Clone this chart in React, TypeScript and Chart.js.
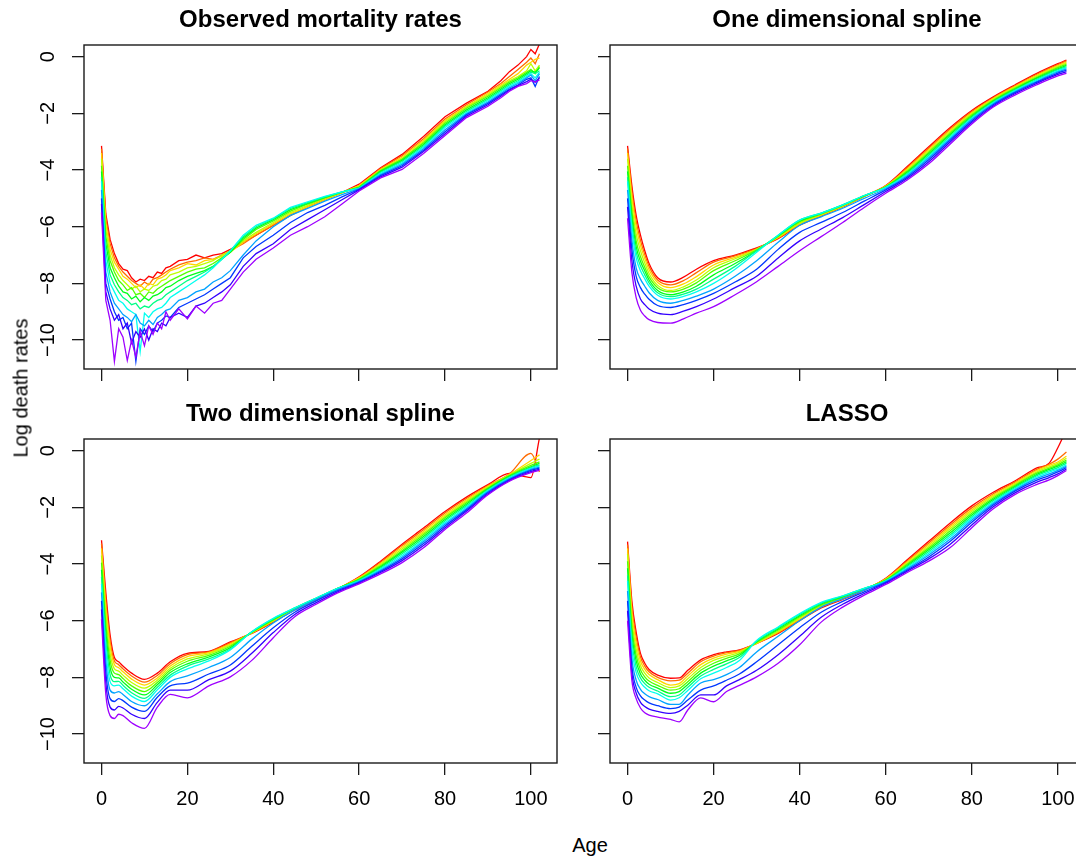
import React, { useEffect, useRef } from "react";
import { Chart, registerables } from "chart.js";

Chart.register(...registerables);
Chart.defaults.font.family = "'Liberation Sans', Arial, Helvetica, sans-serif";

// ---------- axis settings ----------
const X_TICKS = [0, 20, 40, 60, 80, 100];
const Y_TICKS = [0, -2, -4, -6, -8, -10];
const X_MIN = -4.08;
const X_MAX = 106.08;
const Y_MIN = -11.02;
const Y_MAX = 0.41;
const X_LABEL = "Age";
const Y_LABEL = "Log death rates";
const TITLES = ["Observed mortality rates", "One dimensional spline", "Two dimensional spline", "LASSO"];

// ---------- observed log death rates (one row per year, red = earliest, purple = latest) ----------
const OBS_AGES = [0, 1, 2, 3, 4, 5, 6, 7, 8, 9, 10, 11, 12, 13, 14, 15, 16, 18, 20, 22, 24, 26, 28, 30, 33, 36, 40, 44, 48, 52, 56, 60, 65, 70, 75, 80, 85, 90, 93, 95, 97, 99, 100, 101, 102];
const OBSERVED = [
  [-3.15, -5.55, -6.45, -6.95, -7.3, -7.5, -7.55, -7.8, -7.95, -7.85, -7.9, -7.75, -7.8, -7.6, -7.65, -7.45, -7.4, -7.2, -7.15, -7.0, -7.1, -7.0, -6.95, -6.8, -6.55, -6.3, -5.95, -5.6, -5.3, -5.05, -4.8, -4.5, -3.92, -3.45, -2.82, -2.12, -1.64, -1.22, -0.85, -0.53, -0.3, 0.0, 0.25, 0.1, 0.45],
  [-3.25, -5.7, -6.6, -7.1, -7.4, -7.6, -7.75, -7.9, -8.0, -8.1, -7.95, -8.05, -7.85, -7.8, -7.7, -7.6, -7.5, -7.35, -7.25, -7.2, -7.1, -7.15, -7.0, -6.85, -6.6, -6.3, -5.95, -5.6, -5.3, -5.05, -4.8, -4.55, -3.95, -3.5, -2.9, -2.2, -1.7, -1.25, -0.95, -0.7, -0.45, -0.2, -0.05, -0.25, 0.1],
  [-3.4, -5.9, -6.8, -7.25, -7.5, -7.75, -7.85, -8.0, -8.15, -8.05, -8.2, -8.0, -8.05, -7.85, -7.8, -7.7, -7.55, -7.45, -7.3, -7.35, -7.2, -7.15, -7.05, -6.9, -6.55, -6.25, -5.9, -5.55, -5.3, -5.05, -4.8, -4.55, -3.98, -3.55, -2.95, -2.25, -1.75, -1.3, -1.0, -0.8, -0.6, -0.3, -0.2, -0.1, -0.05],
  [-3.6, -6.1, -7.0, -7.45, -7.7, -7.9, -8.05, -8.2, -8.1, -8.3, -8.2, -8.25, -8.1, -8.05, -7.9, -7.85, -7.7, -7.6, -7.45, -7.4, -7.3, -7.2, -7.0, -6.85, -6.5, -6.2, -5.85, -5.5, -5.25, -5.0, -4.8, -4.58, -4.0, -3.6, -3.0, -2.3, -1.78, -1.35, -1.05, -0.85, -0.7, -0.5, -0.25, -0.5, -0.3],
  [-3.85, -6.35, -7.2, -7.6, -7.9, -8.05, -8.25, -8.15, -8.4, -8.35, -8.5, -8.3, -8.35, -8.2, -8.1, -8.0, -7.9, -7.75, -7.6, -7.5, -7.45, -7.3, -7.1, -6.9, -6.45, -6.1, -5.8, -5.45, -5.2, -4.98, -4.78, -4.6, -4.02, -3.62, -3.05, -2.35, -1.82, -1.4, -1.1, -0.9, -0.75, -0.55, -0.45, -0.6, -0.35],
  [-4.05, -6.6, -7.45, -7.8, -8.1, -8.3, -8.35, -8.55, -8.45, -8.65, -8.5, -8.6, -8.45, -8.4, -8.3, -8.15, -8.1, -7.9, -7.75, -7.65, -7.55, -7.4, -7.15, -6.9, -6.4, -6.05, -5.75, -5.4, -5.18, -4.97, -4.78, -4.62, -4.05, -3.66, -3.1, -2.4, -1.88, -1.45, -1.15, -0.95, -0.8, -0.6, -0.5, -0.55, -0.4],
  [-4.25, -6.9, -7.7, -8.05, -8.3, -8.5, -8.6, -8.75, -8.7, -8.9, -8.8, -8.85, -8.7, -8.6, -8.55, -8.4, -8.3, -8.1, -7.9, -7.75, -7.6, -7.4, -7.15, -6.85, -6.35, -6.0, -5.72, -5.35, -5.15, -4.95, -4.77, -4.63, -4.08, -3.7, -3.15, -2.45, -1.93, -1.5, -1.2, -1.0, -0.85, -0.65, -0.55, -0.6, -0.5],
  [-4.4, -7.2, -8.0, -8.3, -8.6, -8.7, -8.9, -9.0, -9.1, -10.4, -9.05, -9.2, -9.0, -8.9, -8.85, -8.7, -8.5, -8.3, -8.1, -7.9, -7.7, -7.45, -7.15, -6.85, -6.3, -5.95, -5.7, -5.32, -5.12, -4.93, -4.77, -4.65, -4.12, -3.75, -3.2, -2.5, -1.98, -1.55, -1.25, -1.05, -0.9, -0.7, -0.6, -0.75, -0.55],
  [-4.7, -7.6, -8.3, -8.7, -8.9, -9.1, -9.2, -9.35, -9.1, -9.4, -9.5, -9.3, -9.45, -9.2, -9.1, -8.95, -8.9, -8.6, -8.5, -8.3, -8.2, -7.95, -7.8, -7.55, -7.0, -6.5, -6.0, -5.6, -5.35, -5.1, -4.87, -4.66, -4.16, -3.8, -3.25, -2.58, -2.02, -1.6, -1.3, -1.1, -0.95, -0.75, -0.65, -0.85, -0.6],
  [-5.0, -8.0, -8.55, -9.0, -9.3, -9.2, -9.6, -9.4, -10.75, -9.6, -9.8, -9.5, -9.7, -9.4, -9.3, -9.15, -9.2, -8.85, -8.7, -8.55, -8.4, -8.2, -8.0, -7.8, -7.1, -6.7, -6.3, -5.85, -5.5, -5.25, -4.95, -4.68, -4.2, -3.85, -3.3, -2.65, -2.05, -1.65, -1.35, -1.15, -1.0, -0.8, -0.75, -1.05, -0.7],
  [-5.2, -8.3, -8.9, -9.3, -9.1, -9.6, -9.4, -10.1, -9.7, -9.9, -9.6, -10.0, -9.6, -9.7, -9.4, -9.5, -9.2, -9.05, -9.2, -8.8, -8.7, -8.5, -8.3, -8.05, -7.4, -6.95, -6.6, -6.1, -5.75, -5.4, -5.05, -4.7, -4.24, -3.9, -3.35, -2.72, -2.1, -1.7, -1.4, -1.18, -1.02, -0.88, -0.8, -0.9, -0.75],
  [-5.5, -8.6, -9.3, -10.75, -9.6, -9.9, -10.72, -10.0, -10.6, -9.7, -10.2, -9.5, -9.8, -9.4, -9.6, -9.0, -9.3, -8.9, -9.25, -8.8, -9.05, -8.7, -8.6, -8.2, -7.6, -7.15, -6.75, -6.3, -6.0, -5.65, -5.2, -4.74, -4.28, -3.98, -3.42, -2.78, -2.15, -1.75, -1.45, -1.22, -1.05, -0.95, -0.85, -0.9, -0.82],
];

// ---------- one dimensional spline fits ----------
const SMOOTH_AGES = [0, 1, 2, 3, 4, 5, 7, 10, 13, 16, 20, 25, 30, 35, 40, 45, 50, 55, 60, 65, 70, 75, 80, 85, 90, 95, 100, 102];
const SPLINE_1D = [
  [-3.15, -4.55, -5.6, -6.3, -6.85, -7.3, -7.8, -7.95, -7.78, -7.5, -7.2, -7.0, -6.75, -6.42, -5.95, -5.62, -5.3, -4.93, -4.55, -3.88, -3.18, -2.5, -1.9, -1.42, -1.0, -0.6, -0.25, -0.12],
  [-3.25, -4.75, -5.8, -6.48, -6.98, -7.4, -7.88, -8.05, -7.9, -7.62, -7.25, -7.03, -6.77, -6.4, -5.92, -5.6, -5.29, -4.93, -4.56, -3.92, -3.23, -2.55, -1.94, -1.45, -1.03, -0.63, -0.28, -0.15],
  [-3.4, -4.95, -6.0, -6.66, -7.12, -7.52, -7.97, -8.15, -8.02, -7.76, -7.35, -7.08, -6.8, -6.38, -5.9, -5.59, -5.28, -4.92, -4.57, -3.96, -3.28, -2.6, -1.98, -1.48, -1.06, -0.67, -0.32, -0.19],
  [-3.6, -5.2, -6.25, -6.85, -7.28, -7.65, -8.07, -8.25, -8.12, -7.88, -7.45, -7.13, -6.8, -6.36, -5.87, -5.57, -5.27, -4.92, -4.58, -4.0, -3.33, -2.65, -2.02, -1.51, -1.09, -0.7, -0.35, -0.23],
  [-3.85, -5.45, -6.5, -7.05, -7.43, -7.77, -8.15, -8.3, -8.2, -7.98, -7.55, -7.2, -6.82, -6.34, -5.83, -5.55, -5.25, -4.91, -4.59, -4.04, -3.38, -2.7, -2.06, -1.54, -1.12, -0.74, -0.39, -0.27],
  [-4.05, -5.65, -6.7, -7.22, -7.56, -7.88, -8.25, -8.4, -8.3, -8.1, -7.7, -7.3, -6.85, -6.32, -5.8, -5.53, -5.24, -4.91, -4.6, -4.08, -3.43, -2.75, -2.1, -1.57, -1.15, -0.77, -0.43, -0.31],
  [-4.25, -5.9, -6.9, -7.38, -7.7, -7.98, -8.33, -8.47, -8.38, -8.2, -7.85, -7.4, -6.85, -6.3, -5.77, -5.52, -5.23, -4.9, -4.61, -4.12, -3.48, -2.8, -2.14, -1.6, -1.18, -0.81, -0.46, -0.35],
  [-4.4, -6.1, -7.1, -7.55, -7.84, -8.1, -8.42, -8.55, -8.46, -8.3, -8.0, -7.5, -6.9, -6.3, -5.77, -5.52, -5.23, -4.9, -4.62, -4.16, -3.53, -2.85, -2.18, -1.63, -1.21, -0.84, -0.5, -0.39],
  [-4.7, -6.45, -7.45, -7.85, -8.1, -8.33, -8.6, -8.7, -8.6, -8.45, -8.2, -7.75, -7.2, -6.55, -5.95, -5.65, -5.35, -5.0, -4.66, -4.2, -3.58, -2.9, -2.22, -1.66, -1.24, -0.88, -0.54, -0.43],
  [-5.0, -6.8, -7.75, -8.15, -8.38, -8.56, -8.78, -8.85, -8.75, -8.6, -8.35, -7.95, -7.5, -6.8, -6.2, -5.85, -5.5, -5.1, -4.7, -4.25, -3.64, -2.95, -2.27, -1.7, -1.27, -0.91, -0.58, -0.48],
  [-5.3, -7.2, -8.1, -8.55, -8.75, -8.9, -9.05, -9.1, -8.98, -8.82, -8.55, -8.15, -7.75, -7.1, -6.5, -6.08, -5.68, -5.22, -4.76, -4.3, -3.71, -3.01, -2.32, -1.74, -1.31, -0.95, -0.63, -0.53],
  [-5.7, -7.6, -8.5, -8.95, -9.15, -9.28, -9.38, -9.4, -9.25, -9.05, -8.82, -8.4, -7.94, -7.4, -6.85, -6.35, -5.85, -5.32, -4.82, -4.35, -3.78, -3.08, -2.38, -1.78, -1.36, -1.0, -0.68, -0.59],
];

// ---------- two dimensional spline fits ----------
const SPLINE_2D = [
  [-3.16, -5.0, -6.5, -7.3, -7.45, -7.6, -7.85, -8.07, -7.85, -7.45, -7.15, -7.08, -6.75, -6.45, -6.05, -5.62, -5.26, -4.88, -4.45, -3.9, -3.3, -2.73, -2.15, -1.64, -1.2, -0.8, -0.95, 0.45],
  [-3.28, -5.25, -6.7, -7.42, -7.55, -7.7, -7.95, -8.17, -7.93, -7.52, -7.2, -7.1, -6.78, -6.44, -6.03, -5.61, -5.25, -4.88, -4.47, -3.94, -3.35, -2.79, -2.2, -1.69, -1.23, -0.82, -0.1, -0.75],
  [-3.45, -5.5, -6.9, -7.55, -7.66, -7.8, -8.06, -8.27, -8.02, -7.6, -7.27, -7.13, -6.82, -6.43, -6.01, -5.6, -5.24, -4.87, -4.49, -3.98, -3.41, -2.85, -2.26, -1.74, -1.26, -0.84, -0.35, -0.15],
  [-3.7, -5.8, -7.15, -7.7, -7.78, -7.92, -8.18, -8.38, -8.1, -7.68, -7.35, -7.17, -6.86, -6.42, -5.99, -5.58, -5.23, -4.87, -4.51, -4.02, -3.47, -2.91, -2.32, -1.79, -1.29, -0.86, -0.45, -0.3],
  [-3.95, -6.1, -7.4, -7.85, -7.9, -8.04, -8.3, -8.5, -8.18, -7.75, -7.43, -7.22, -6.9, -6.41, -5.97, -5.57, -5.22, -4.86, -4.53, -4.06, -3.53, -2.97, -2.37, -1.84, -1.32, -0.88, -0.52, -0.4],
  [-4.2, -6.4, -7.65, -8.0, -8.02, -8.16, -8.42, -8.62, -8.26, -7.83, -7.52, -7.28, -6.95, -6.4, -5.95, -5.56, -5.21, -4.86, -4.55, -4.1, -3.58, -3.03, -2.43, -1.89, -1.35, -0.9, -0.57, -0.45],
  [-4.45, -6.7, -7.9, -8.15, -8.14, -8.28, -8.54, -8.74, -8.35, -7.92, -7.6, -7.35, -7.0, -6.39, -5.93, -5.55, -5.2, -4.86, -4.57, -4.14, -3.64, -3.09, -2.48, -1.94, -1.38, -0.93, -0.6, -0.5],
  [-4.7, -7.0, -8.15, -8.3, -8.27, -8.4, -8.66, -8.85, -8.44, -8.0, -7.7, -7.42, -7.03, -6.39, -5.92, -5.55, -5.2, -4.86, -4.59, -4.18, -3.7, -3.15, -2.54, -1.99, -1.41, -0.96, -0.63, -0.54],
  [-5.0, -7.4, -8.45, -8.55, -8.5, -8.6, -8.85, -9.0, -8.58, -8.15, -7.95, -7.65, -7.3, -6.65, -6.08, -5.62, -5.25, -4.9, -4.61, -4.22, -3.76, -3.21, -2.6, -2.04, -1.44, -0.99, -0.66, -0.58],
  [-5.3, -7.8, -8.75, -8.85, -8.75, -8.82, -9.05, -9.2, -8.7, -8.3, -8.2, -7.88, -7.56, -6.9, -6.25, -5.7, -5.3, -4.94, -4.64, -4.26, -3.82, -3.28, -2.66, -2.09, -1.48, -1.02, -0.7, -0.62],
  [-5.6, -8.2, -9.05, -9.15, -9.02, -9.08, -9.3, -9.45, -8.88, -8.45, -8.45, -8.08, -7.78, -7.15, -6.42, -5.78, -5.36, -4.98, -4.67, -4.3, -3.88, -3.35, -2.72, -2.14, -1.52, -1.05, -0.74, -0.66],
  [-5.95, -8.6, -9.35, -9.45, -9.3, -9.35, -9.6, -9.8, -9.05, -8.6, -8.72, -8.3, -7.98, -7.4, -6.6, -5.86, -5.42, -5.02, -4.7, -4.35, -3.95, -3.43, -2.78, -2.2, -1.56, -1.08, -0.78, -0.7],
];

// ---------- LASSO fits ----------
const LASSO_AGES = [0, 1, 2, 3, 4, 5, 7, 10, 12, 14, 17, 20, 23, 26, 30, 35, 40, 45, 50, 55, 60, 65, 70, 75, 80, 85, 90, 95, 98, 100, 102];
const LASSO_FIT = [
  [-3.21, -5.3, -6.4, -7.15, -7.5, -7.72, -7.92, -8.03, -8.02, -7.75, -7.38, -7.2, -7.1, -7.03, -6.8, -6.45, -6.0, -5.55, -5.25, -4.92, -4.5, -3.85, -3.2, -2.55, -1.95, -1.47, -1.07, -0.62, -0.44, 0.1, 0.75],
  [-3.32, -5.5, -6.58, -7.28, -7.6, -7.8, -8.0, -8.12, -8.1, -7.85, -7.45, -7.25, -7.13, -7.05, -6.8, -6.42, -5.97, -5.52, -5.23, -4.91, -4.52, -3.89, -3.26, -2.62, -2.02, -1.52, -1.11, -0.67, -0.48, -0.3, -0.05],
  [-3.45, -5.7, -6.78, -7.42, -7.72, -7.9, -8.08, -8.27, -8.22, -7.95, -7.55, -7.32, -7.18, -7.08, -6.8, -6.4, -5.94, -5.5, -5.21, -4.9, -4.53, -3.93, -3.32, -2.69, -2.09, -1.57, -1.15, -0.71, -0.52, -0.4, -0.2],
  [-3.65, -5.95, -7.0, -7.58, -7.85, -8.02, -8.18, -8.36, -8.3, -8.05, -7.65, -7.4, -7.25, -7.12, -6.78, -6.37, -5.9, -5.47, -5.19, -4.89, -4.55, -3.97, -3.38, -2.76, -2.15, -1.62, -1.19, -0.76, -0.57, -0.45, -0.27],
  [-3.9, -6.2, -7.22, -7.73, -7.98, -8.13, -8.28, -8.45, -8.4, -8.15, -7.75, -7.5, -7.33, -7.17, -6.76, -6.33, -5.86, -5.44, -5.17, -4.88, -4.56, -4.01, -3.44, -2.83, -2.21, -1.67, -1.23, -0.8, -0.62, -0.5, -0.33],
  [-4.15, -6.45, -7.42, -7.88, -8.1, -8.24, -8.38, -8.56, -8.5, -8.25, -7.85, -7.6, -7.42, -7.23, -6.74, -6.29, -5.82, -5.41, -5.15, -4.87, -4.58, -4.05, -3.5, -2.9, -2.27, -1.72, -1.27, -0.85, -0.66, -0.55, -0.39],
  [-4.4, -6.7, -7.62, -8.02, -8.22, -8.35, -8.48, -8.68, -8.62, -8.35, -7.95, -7.72, -7.52, -7.3, -6.72, -6.25, -5.78, -5.38, -5.13, -4.86, -4.59, -4.09, -3.56, -2.97, -2.33, -1.77, -1.31, -0.89, -0.71, -0.6, -0.44],
  [-4.6, -6.95, -7.82, -8.17, -8.35, -8.47, -8.58, -8.8, -8.72, -8.46, -8.05, -7.85, -7.65, -7.4, -6.7, -6.22, -5.75, -5.35, -5.12, -4.86, -4.6, -4.13, -3.62, -3.04, -2.39, -1.82, -1.35, -0.94, -0.76, -0.65, -0.5],
  [-4.95, -7.3, -8.1, -8.42, -8.58, -8.68, -8.78, -8.95, -8.95, -8.62, -8.2, -8.08, -7.9, -7.65, -7.1, -6.55, -6.0, -5.52, -5.22, -4.92, -4.62, -4.17, -3.68, -3.12, -2.46, -1.87, -1.39, -0.99, -0.82, -0.7, -0.55],
  [-5.3, -7.6, -8.35, -8.65, -8.8, -8.9, -9.0, -9.1, -9.05, -8.8, -8.45, -8.3, -8.1, -7.88, -7.45, -6.85, -6.25, -5.7, -5.32, -4.98, -4.65, -4.21, -3.75, -3.2, -2.53, -1.92, -1.43, -1.05, -0.88, -0.75, -0.6],
  [-5.65, -7.85, -8.55, -8.88, -9.03, -9.12, -9.2, -9.27, -9.2, -8.98, -8.62, -8.62, -8.3, -8.08, -7.75, -7.2, -6.55, -5.88, -5.42, -5.04, -4.68, -4.25, -3.82, -3.3, -2.62, -1.98, -1.49, -1.12, -0.95, -0.82, -0.65],
  [-6.0, -8.1, -8.75, -9.08, -9.25, -9.33, -9.4, -9.48, -9.57, -9.15, -8.72, -8.86, -8.5, -8.28, -7.98, -7.5, -6.85, -6.05, -5.52, -5.1, -4.72, -4.3, -3.9, -3.42, -2.72, -2.05, -1.55, -1.2, -1.03, -0.88, -0.7],
];

const FONT = "'Liberation Sans', Arial, Helvetica, sans-serif";

const fmtTick = (v: number) => (v < 0 ? "\u2212" + Math.abs(v) : String(v));

const boxPlugin = {
  id: "rbox",
  afterDatasetsDraw(chart: any) {
    const { ctx, chartArea: a } = chart;
    ctx.save();
    ctx.strokeStyle = "#1a1a1a";
    ctx.lineWidth = 1.4;
    ctx.strokeRect(a.left, a.top, a.right - a.left, a.bottom - a.top);
    ctx.restore();
  },
};

type PanelProps = {
  title: string;
  ages: number[];
  series: number[][];
  left: number;
  top: number;
  width: number;
  height: number;
  yAxisW: number;
  xAxisH: number;
  showX: boolean;
  showY: boolean;
  smooth: boolean;
};

function Panel(p: PanelProps) {
  const ref = useRef<HTMLCanvasElement | null>(null);
  useEffect(() => {
    if (!ref.current) return;
    const n = p.series.length;
    const datasets = p.series.map((vals, i) => ({
      data: p.ages.map((a, j) => ({ x: a, y: vals[j] })),
      borderColor: `hsl(${((i / (n - 1)) * 0.77 * 360).toFixed(1)}, 100%, 50%)`,
      borderWidth: 1.3,
      pointRadius: 0,
      fill: false,
      order: n - 1 - i,
      tension: 0,
      cubicInterpolationMode: p.smooth ? "monotone" : "default",
    }));
    const tickGrid = {
      display: true,
      drawOnChartArea: false,
      drawTicks: true,
      tickLength: 12,
      color: "#1a1a1a",
      lineWidth: 1.3,
    };
    const chart = new Chart(ref.current, {
      type: "line",
      data: { datasets } as any,
      plugins: [boxPlugin],
      options: {
        animation: false,
        responsive: false,
        events: [],
        layout: { padding: { top: 0, left: 0, bottom: 0, right: 6 } },
        plugins: {
          legend: { display: false },
          tooltip: { enabled: false },
          title: {
            display: true,
            text: p.title,
            fullSize: false,
            color: "#000",
            font: { size: 24, weight: "bold", family: FONT },
            padding: { top: 6, bottom: 10.2 },
          },
        },
        scales: {
          x: {
            type: "linear",
            min: X_MIN,
            max: X_MAX,
            afterBuildTicks: (s: any) => {
              s.ticks = X_TICKS.map((v) => ({ value: v }));
            },
            afterFit: (s: any) => {
              s.height = p.xAxisH;
            },
            grid: tickGrid,
            border: { display: false },
            ticks: {
              display: p.showX,
              autoSkip: false,
              maxRotation: 0,
              minRotation: 0,
              padding: 12,
              color: "#000",
              font: { size: 20, family: FONT },
              callback: (v: any) => fmtTick(Number(v)),
            },
          },
          y: {
            type: "linear",
            min: Y_MIN,
            max: Y_MAX,
            afterBuildTicks: (s: any) => {
              s.ticks = Y_TICKS.map((v) => ({ value: v }));
            },
            afterFit: (s: any) => {
              s.width = p.yAxisW;
            },
            grid: tickGrid,
            border: { display: false },
            ticks: {
              display: p.showY,
              autoSkip: false,
              minRotation: 90,
              maxRotation: 90,
              crossAlign: "center",
              padding: 7,
              color: "#000",
              font: { size: 20, family: FONT },
              callback: (v: any) => fmtTick(Number(v)),
            },
          },
        },
      } as any,
    });
    return () => chart.destroy();
  }, []);
  return (
    <canvas
      ref={ref}
      width={p.width}
      height={p.height}
      style={{ position: "absolute", left: p.left, top: p.top, width: p.width, height: p.height }}
    />
  );
}

export default function App() {
  return (
    <div
      style={{
        position: "fixed",
        left: 0,
        top: 0,
        width: 1076,
        height: 859,
        overflow: "hidden",
        background: "#fff",
        fontFamily: FONT,
      }}
    >
      <Panel title={TITLES[0]} ages={OBS_AGES} series={OBSERVED} left={0} top={0} width={563} height={399} yAxisW={84} xAxisH={30} showX={false} showY={true} smooth={false} />
      <Panel title={TITLES[1]} ages={SMOOTH_AGES} series={SPLINE_1D} left={596} top={0} width={494} height={399} yAxisW={14} xAxisH={30} showX={false} showY={false} smooth={true} />
      <Panel title={TITLES[2]} ages={SMOOTH_AGES} series={SPLINE_2D} left={0} top={394} width={563} height={419} yAxisW={84} xAxisH={50} showX={true} showY={true} smooth={true} />
      <Panel title={TITLES[3]} ages={LASSO_AGES} series={LASSO_FIT} left={596} top={394} width={494} height={419} yAxisW={14} xAxisH={50} showX={true} showY={false} smooth={true} />
      <div
        style={{
          position: "absolute",
          left: 590,
          top: 845,
          transform: "translate(-50%, -50%)",
          fontSize: 20,
          color: "#000",
          whiteSpace: "nowrap",
        }}
      >
        {X_LABEL}
      </div>
      <div
        style={{
          position: "absolute",
          left: 21,
          top: 388,
          transform: "translate(-50%, -50%) rotate(-90deg)",
          fontSize: 20,
          color: "#000",
          whiteSpace: "nowrap",
        }}
      >
        {Y_LABEL}
      </div>
    </div>
  );
}
